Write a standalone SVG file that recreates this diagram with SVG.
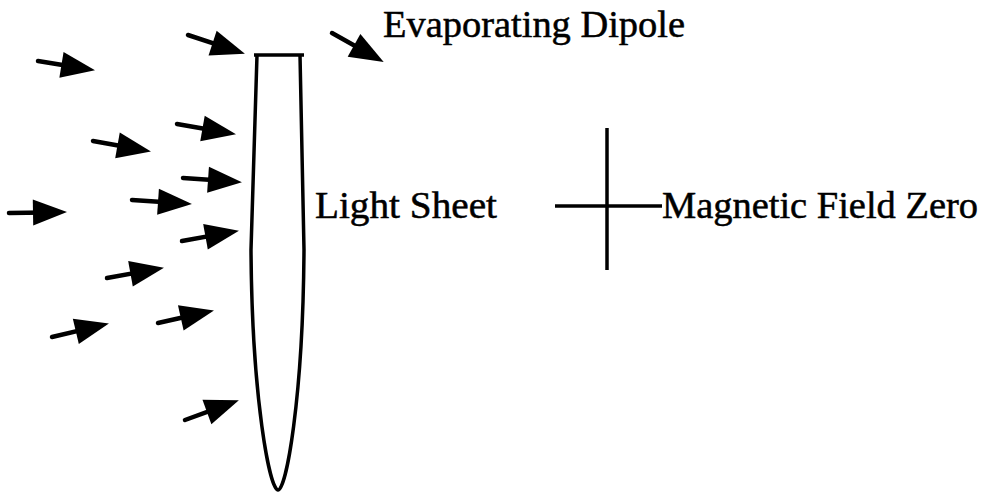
<svg xmlns="http://www.w3.org/2000/svg" width="982" height="492" viewBox="0 0 982 492">
<style>
.t{font-family:"Liberation Serif","Times New Roman",serif;font-size:37px;fill:#000;stroke:#000;stroke-width:0.5}
.ar{stroke:#000;stroke-width:4.5;stroke-linecap:round;fill:none}
.ln{stroke:#000;stroke-width:3.5;fill:none}
</style>
<defs>
<marker id="ah" markerUnits="userSpaceOnUse" markerWidth="36" markerHeight="28" refX="12" refY="13" orient="auto" viewBox="0 0 36 28" overflow="visible">
<path d="M0,0 L34,13 L0,26 Z" fill="#000"/>
</marker>
</defs>
<rect width="982" height="492" fill="#fff"/>
<g id="light-sheet">
<path class="ln" stroke-width="4" d="M254 55 L304 55 M257 55 L251 250 C252 400 270 490 278 490 C286 490 303 400 304 250 L300 55"/>
</g>
<g id="field-zero">
<line class="ln" x1="607" y1="128" x2="607" y2="270"/>
<line class="ln" x1="555" y1="206" x2="662" y2="206"/>
</g>
<g id="labels">
<text class="t" x="383" y="37" textLength="302" lengthAdjust="spacingAndGlyphs">Evaporating Dipole</text>
<text class="t" x="315" y="218" textLength="182" lengthAdjust="spacingAndGlyphs">Light Sheet</text>
<text class="t" x="662" y="218" textLength="316" lengthAdjust="spacingAndGlyphs">Magnetic Field Zero</text>
</g>
<g id="arrows">
<line class="ar" marker-end="url(#ah)" x1="188" y1="35" x2="224" y2="46.8"/>
<line class="ar" marker-end="url(#ah)" x1="38" y1="61" x2="73.3" y2="66.8"/>
<line class="ar" marker-end="url(#ah)" x1="177" y1="124" x2="214.3" y2="130.5"/>
<line class="ar" marker-end="url(#ah)" x1="93" y1="141" x2="129.3" y2="147.5"/>
<line class="ar" marker-end="url(#ah)" x1="183" y1="178" x2="220" y2="180.6"/>
<line class="ar" marker-end="url(#ah)" x1="132" y1="200" x2="170" y2="202.6"/>
<line class="ar" marker-end="url(#ah)" x1="9" y1="213" x2="45" y2="212.4"/>
<line class="ar" marker-end="url(#ah)" x1="182" y1="241" x2="217.3" y2="234.6"/>
<line class="ar" marker-end="url(#ah)" x1="107" y1="278" x2="142.3" y2="271.6"/>
<line class="ar" marker-end="url(#ah)" x1="158" y1="323" x2="192.5" y2="315.3"/>
<line class="ar" marker-end="url(#ah)" x1="52" y1="337" x2="87.5" y2="328.6"/>
<line class="ar" marker-end="url(#ah)" x1="185" y1="420" x2="218.2" y2="407.9"/>
<line class="ar" marker-end="url(#ah)" x1="332" y1="33" x2="364.5" y2="51.2"/>
</g>
</svg>
